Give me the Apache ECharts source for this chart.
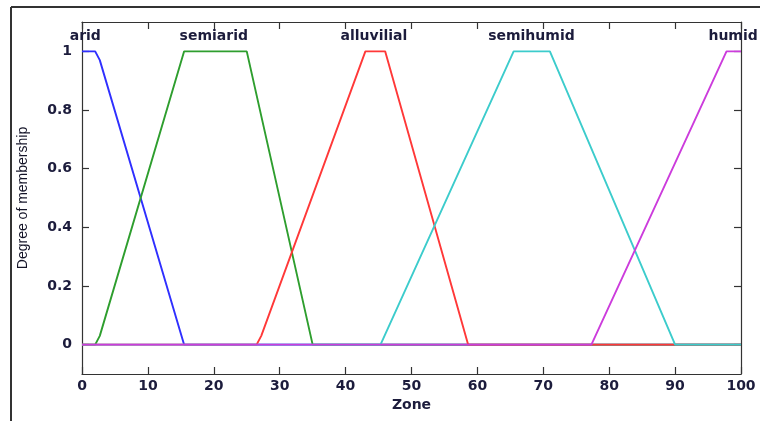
<!DOCTYPE html>
<html>
<head>
<meta charset="utf-8">
<script src="https://cdn.jsdelivr.net/npm/echarts@6/dist/echarts.min.js"></script>
<style>html,body{margin:0;padding:0;background:#fff}#c{width:760px;height:421px}</style>
</head>
<body>
<div id="c"></div>
<script>
// Membership function names
var mfNames = ['arid', 'semiarid', 'alluvilial', 'semihumid', 'humid'];
// Breakpoints (x = zone) and membership values
var aridX = [0, 2, 2.7, 15.5, 100];
var aridY = [1, 1, 0.97, 0, 0];
var semiaridX = [0, 2, 2.7, 15.5, 25, 35, 100];
var semiaridY = [0, 0, 0.03, 1, 1, 0, 0];
var alluvialX = [0, 26.5, 27.2, 43, 46, 58.6, 100];
var alluvialY = [0, 0, 0.03, 1, 1, 0, 0];
var semihumidX = [0, 45.3, 65.5, 71, 90, 100];
var semihumidY = [0, 0, 1, 1, 0, 0];
var humidX = [0, 77.3, 97.8, 100];
var humidY = [0, 0, 1, 1];
// label anchor positions (x centers) and height
var labelX = [0.5, 20, 44.3, 68.2, 98.8];
var labelY = 1.05;
var yTicks = [0, 0.2, 0.4, 0.6, 0.8, 1];

var colors = ['#2f2fff', '#2e9e2e', '#ff3838', '#3ccccc', '#cc3cdc'];
var xs = [aridX, semiaridX, alluvialX, semihumidX, humidX];
var ys = [aridY, semiaridY, alluvialY, semihumidY, humidY];

function pairs(x, y) { return x.map(function (v, i) { return [v, y[i]]; }); }

var txtColor = '#1c1c3c';
var series = mfNames.map(function (n, i) {
  return {
    name: n, type: 'line', data: pairs(xs[i], ys[i]), symbol: 'none',
    lineStyle: { color: colors[i], width: 1.9 }, animation: false, z: 2 + i
  };
});
series.push({
  type: 'scatter', symbolSize: 0, animation: false, z: 20, silent: true,
  itemStyle: { color: 'rgba(0,0,0,0)' },
  data: mfNames.map(function (n, i) { return { name: n, value: [labelX[i], labelY] }; }),
  label: { show: true, position: 'inside', formatter: '{b}', color: txtColor,
    textBorderWidth: 0, textBorderColor: 'transparent', opacity: 1,
    fontFamily: 'DejaVu Sans', fontWeight: 'bold', fontSize: 14 }
});

var axisLineStyle = { color: '#333', width: 1.2 };
var chart = echarts.init(document.getElementById('c'), null, { renderer: 'canvas' });
chart.setOption({
  animation: false,
  grid: { left: 82, right: 19, top: 22, bottom: 47, containLabel: false },
  xAxis: [{
    type: 'value', min: 0, max: 100, interval: 10, position: 'bottom',
    name: 'Zone', nameLocation: 'middle', nameGap: 22,
    nameTextStyle: { fontFamily: 'DejaVu Sans', fontWeight: 'bold', fontSize: 14, color: txtColor },
    axisLine: { show: true, onZero: false, lineStyle: axisLineStyle },
    axisTick: { show: true, inside: true, length: 7, lineStyle: axisLineStyle },
    axisLabel: { margin: 5, fontFamily: 'DejaVu Sans', fontWeight: 'bold', fontSize: 14, color: txtColor },
    splitLine: { show: false }
  }, {
    type: 'value', min: 0, max: 100, interval: 10, position: 'top',
    axisLine: { show: true, onZero: false, lineStyle: axisLineStyle },
    axisTick: { show: true, inside: true, length: 7, lineStyle: axisLineStyle },
    axisLabel: { show: false }, splitLine: { show: false }
  }],
  yAxis: [{
    type: 'value', min: -0.1, max: 1.1, position: 'left',
    name: 'Degree of membership', nameLocation: 'middle', nameGap: 52, nameRotate: 90,
    nameTextStyle: { fontFamily: 'Liberation Sans', fontSize: 14, color: '#141428' },
    axisLine: { show: true, onZero: false, lineStyle: axisLineStyle },
    axisTick: { show: true, inside: true, length: 7, lineStyle: axisLineStyle, customValues: yTicks },
    axisLabel: { margin: 10, fontFamily: 'DejaVu Sans', fontWeight: 'bold', fontSize: 14, color: txtColor, customValues: yTicks },
    splitLine: { show: false }
  }, {
    type: 'value', min: -0.1, max: 1.1, position: 'right',
    axisLine: { show: true, onZero: false, lineStyle: axisLineStyle },
    axisTick: { show: true, inside: true, length: 7, lineStyle: axisLineStyle, customValues: yTicks },
    axisLabel: { show: false }, splitLine: { show: false }
  }],
  graphic: [
    { type: 'line', shape: { x1: 11, y1: 7, x2: 760, y2: 7 }, style: { stroke: '#333', lineWidth: 2 } },
    { type: 'line', shape: { x1: 11, y1: 7, x2: 11, y2: 421 }, style: { stroke: '#333', lineWidth: 2 } }
  ],
  series: series
});
</script>
</body>
</html>
